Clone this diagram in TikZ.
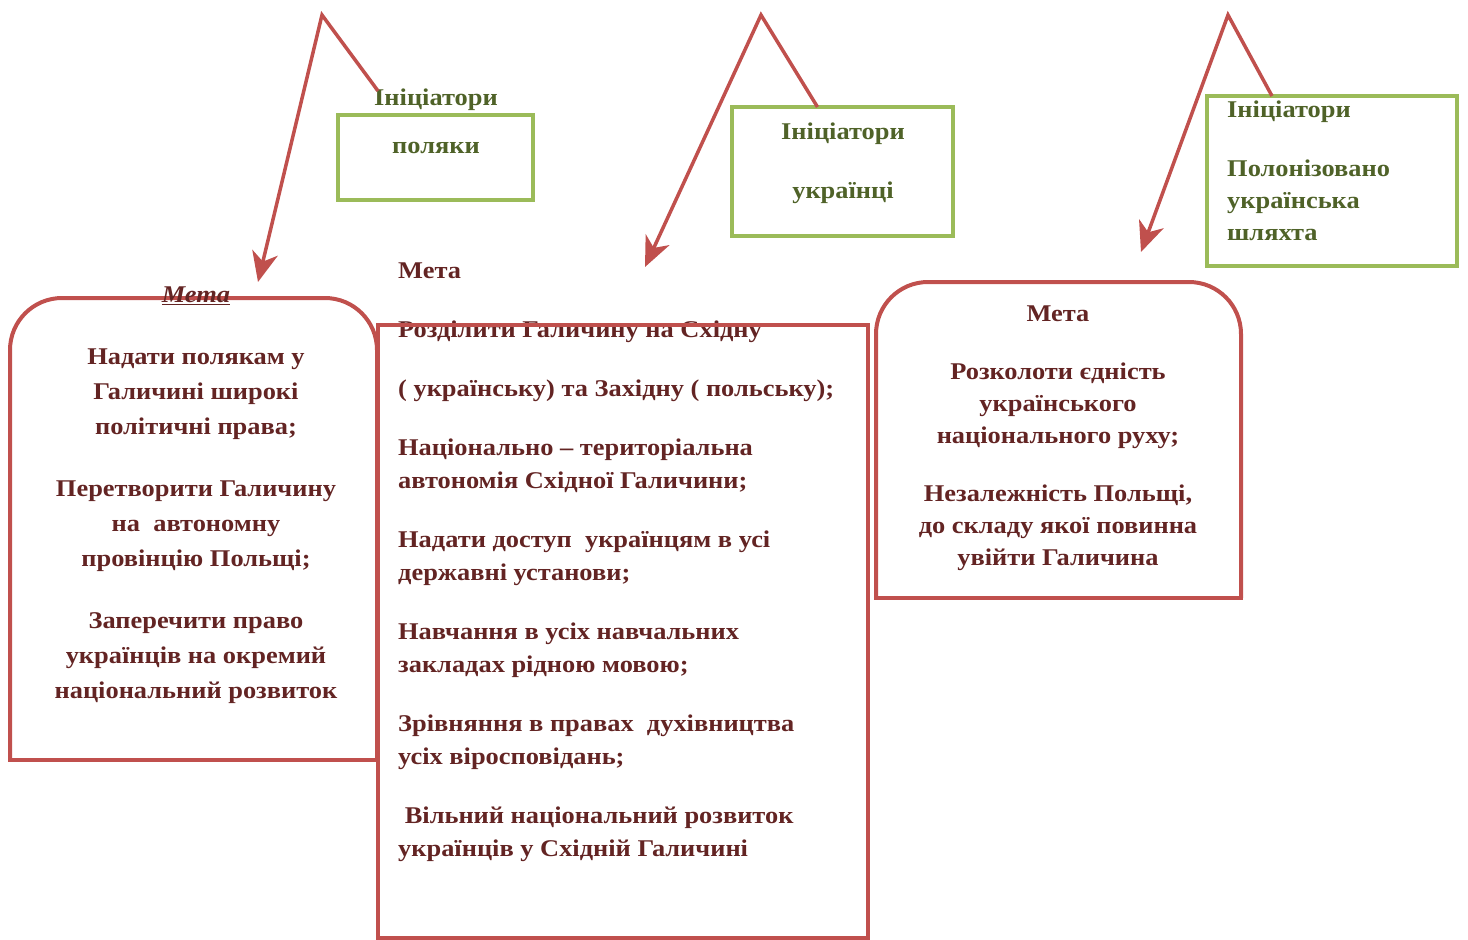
\documentclass[tikz,border=0pt]{standalone}
\usepackage{fontspec}
\setmainfont{Liberation Serif}
\newfontfamily\widefont[FakeStretch=1.1]{Liberation Serif}
\usetikzlibrary{arrows.meta}
\definecolor{boxred}{HTML}{C0504D}
\definecolor{boxgreen}{HTML}{9BBB59}
\definecolor{txtred}{HTML}{632423}
\definecolor{txtgreen}{HTML}{4F6228}
\tikzset{
  redline/.style={draw=boxred, line width=4pt},
  greenbox/.style={draw=boxgreen, line width=4pt, inner sep=0pt, outer sep=0pt},
  frame/.style={draw=none, inner sep=0pt, outer sep=0pt},
  arrowline/.style={draw=boxred, line width=3.5pt, line join=miter, -{Stealth[length=30pt,width=26pt,inset=9pt]}},
  redtext/.style={text=txtred, font=\widefont\bfseries\fontsize{24}{35}\selectfont, inner sep=0pt},
  greentext/.style={text=txtgreen, font=\widefont\bfseries\fontsize{24}{32}\selectfont, inner sep=0pt},
}
\begin{document}
\begin{tikzpicture}[x=1pt,y=-1pt]
\useasboundingbox (0,0) rectangle (1468,940);

% green boxes
\node[greenbox, minimum width=195pt, minimum height=85pt] (gbox1) at (435.5,157.5) {};
\node[greenbox, minimum width=221pt, minimum height=129pt] (gbox2) at (842.5,171.5) {};
\node[greenbox, minimum width=250pt, minimum height=170pt] (gbox3) at (1332,181) {};

\node[greentext] (ini1) at (436,100) {Ініціатори};
\node[greentext] (pol1) at (436,148) {поляки};
\node[greentext, align=center] (ukr2) at (843,163.5) {Ініціатори\\[27pt]українці};
\node[greentext, align=left, anchor=west] (shl3) at (1227,170.5) {Ініціатори\\[27pt]Полонізовано\\українська\\шляхта};

% red boxes (frames)
\node[frame, minimum width=367pt, minimum height=462pt] (lbox) at (193.5,529) {};
\node[frame, minimum width=490pt, minimum height=613pt] (mbox) at (623,631.5) {};
\node[frame, minimum width=365pt, minimum height=316pt] (rbox) at (1058.5,440) {};

\draw[redline, rounded corners=52pt] (lbox.south west) -- (lbox.north west) -- (lbox.north east) -- (lbox.south east);
\draw[redline, line cap=rect] (lbox.south west) -- (lbox.south east);
\draw[redline, rounded corners=52pt] (rbox.south west) -- (rbox.north west) -- (rbox.north east) -- (rbox.south east);
\draw[redline, line cap=rect] (rbox.south west) -- (rbox.south east);

% left text
\node[redtext] (meta1) at (196,296) {\underline{\textit{Мета}}};
\node[redtext, align=center] (ltext) at (196,526) {Надати полякам у\\Галичині широкі\\політичні права;\\[27pt]Перетворити Галичину\\на\ \ автономну\\провінцію Польщі;\\[27pt]Заперечити право\\українців на окремий\\національний розвиток};

% middle text
\node[redtext, font=\widefont\bfseries\fontsize{24}{33}\selectfont, align=left, anchor=west] (mtext) at (398,562.5) {Мета\\[26pt]Розділити Галичину на Східну\\[26pt]( українську) та Західну ( польську);\\[26pt]Національно – територіальна\\автономія Східної Галичини;\\[26pt]Надати доступ\ \ українцям в усі\\державні установи;\\[26pt]Навчання в усіх навчальних\\закладах рідною мовою;\\[26pt]Зрівняння в правах\ \ духівництва\\усіх віросповідань;\\[26pt]\ Вільний національний розвиток\\українців у Східній Галичині};

\draw[redline] (mbox.north west) rectangle (mbox.south east);

% right text
\node[redtext, font=\widefont\bfseries\fontsize{24}{32}\selectfont, align=center] (rtext) at (1058,438) {Мета\\[26pt]Розколоти єдність\\українського\\національного руху;\\[26pt]Незалежність Польщі,\\до складу якої повинна\\увійти Галичина};

% arrows
\coordinate (apexA) at (322,15);
\coordinate (tipA) at (258,282);
\coordinate (apexB) at (761,15);
\coordinate (tipB) at (645,267);
\coordinate (apexC) at (1228,15);
\coordinate (tipC) at (1141,252);
\draw[arrowline] ([xshift=4pt,yshift=-2pt]ini1.north west) -- (apexA) -- (tipA);
\draw[arrowline] ([xshift=-25pt]gbox2.north) -- (apexB) -- (tipB);
\draw[arrowline] ([xshift=-60pt]gbox3.north) -- (apexC) -- (tipC);
\end{tikzpicture}
\end{document}
